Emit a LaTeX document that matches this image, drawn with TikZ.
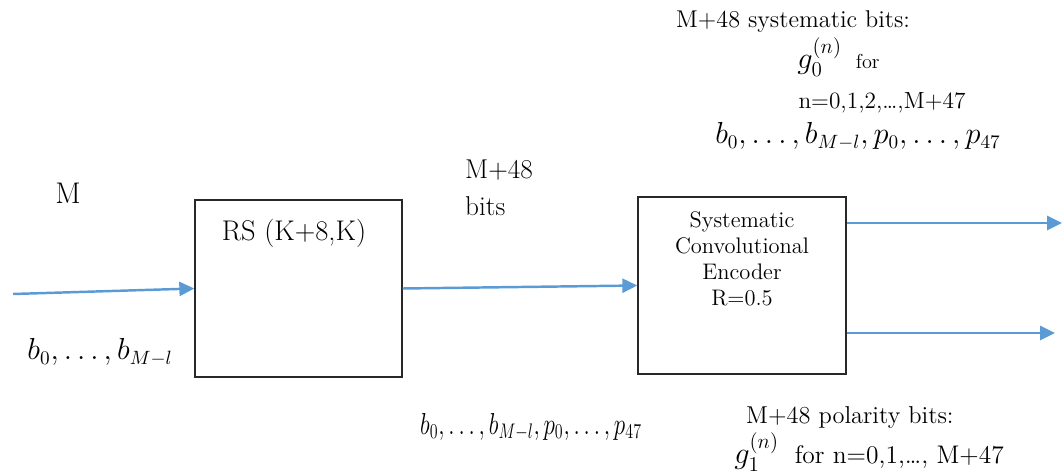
\documentclass[tikz,border=0pt]{standalone}
\usepackage{amsmath}
\usepackage{xcolor}
\definecolor{flowblue}{RGB}{91,155,213}
\definecolor{boxgray}{RGB}{40,40,40}
\usetikzlibrary{arrows.meta, positioning}

\begin{document}
\begin{tikzpicture}[x=0.02cm, y=-0.02cm, >={Triangle[length=8.5pt,width=8pt]},
    block/.style={draw=boxgray, line width=0.85pt, inner sep=0pt},
    flow/.style={->, flowblue, line width=1.4pt},
    big/.style={font=\fontsize{15.5}{21}\selectfont},
    small/.style={font=\fontsize{12.8}{14.7}\selectfont, align=center},
    mathbig/.style={font=\fontsize{16}{20}\selectfont}]
    \useasboundingbox (0,0) rectangle (1062,476);

    \node[block, minimum width=4.14cm, minimum height=3.54cm] (rs) at (298.5,288.5) {};
    \node[block, minimum width=4.16cm, minimum height=3.54cm] (enc) at (742,285.5) {};
    \node[font=\fontsize{16.2}{20}\selectfont] (rstext) at (294,233) {RS (K+8,K)};
    \node[small] (enctext) at (742,259) {Systematic\\Convolutional\\Encoder\\R=0.5};

    \coordinate (src) at (13,294);
    \coordinate (sysout) at (1062,223);
    \coordinate (polout) at (1055,333);
    \draw[flow] (src) -- (rs.west);
    \draw[flow] (rs.east) -- (enc.west);
    \draw[flow] (enc.east |- sysout) -- (sysout);
    \draw[flow] (enc.east |- polout) -- (polout);

    % input side
    \node[font=\fontsize{17}{20}\selectfont] (msize) at (68,193) {M};
    \node[mathbig] (inbits) at (100,352) {$b_0,\ldots,b_{M-l}$};

    % between the blocks
    \node[big, anchor=west, align=left] (midbits) at (459,188) {M+48\\bits};
    \node[font=\fontsize{17}{20}\selectfont, xscale=0.76] (rsbits) at (531,427) {$b_0,\ldots,b_{M-l},p_0,\ldots,p_{47}$};

    % systematic output
    \node[font=\fontsize{13.8}{16}\selectfont, anchor=west] (systitle) at (670,22) {M+48 systematic bits:};
    \node[anchor=west, inner sep=0pt] (g0) at (797,57) {\fontsize{18}{20}\selectfont$g_0^{(n)}$\hspace{8pt}\fontsize{11.5}{14}\selectfont for};
    \node[font=\fontsize{13.3}{15}\selectfont] (g0range) at (882,103) {n=0,1,2,\ldots,M+47};
    \node[mathbig] (sysbits) at (858,136) {$b_0,\ldots,b_{M-l},p_0,\ldots,p_{47}$};

    % polarity output
    \node[font=\fontsize{13.9}{17}\selectfont, anchor=west] (poltitle) at (740,418) {M+48 polarity bits:};
    \node[anchor=west, inner sep=0pt] (g1) at (734,452) {\fontsize{17}{20}\selectfont$g_1^{(n)}$\hspace{9pt}\fontsize{14.5}{17}\selectfont for n=0,1,\ldots, M+47};
\end{tikzpicture}
\end{document}
